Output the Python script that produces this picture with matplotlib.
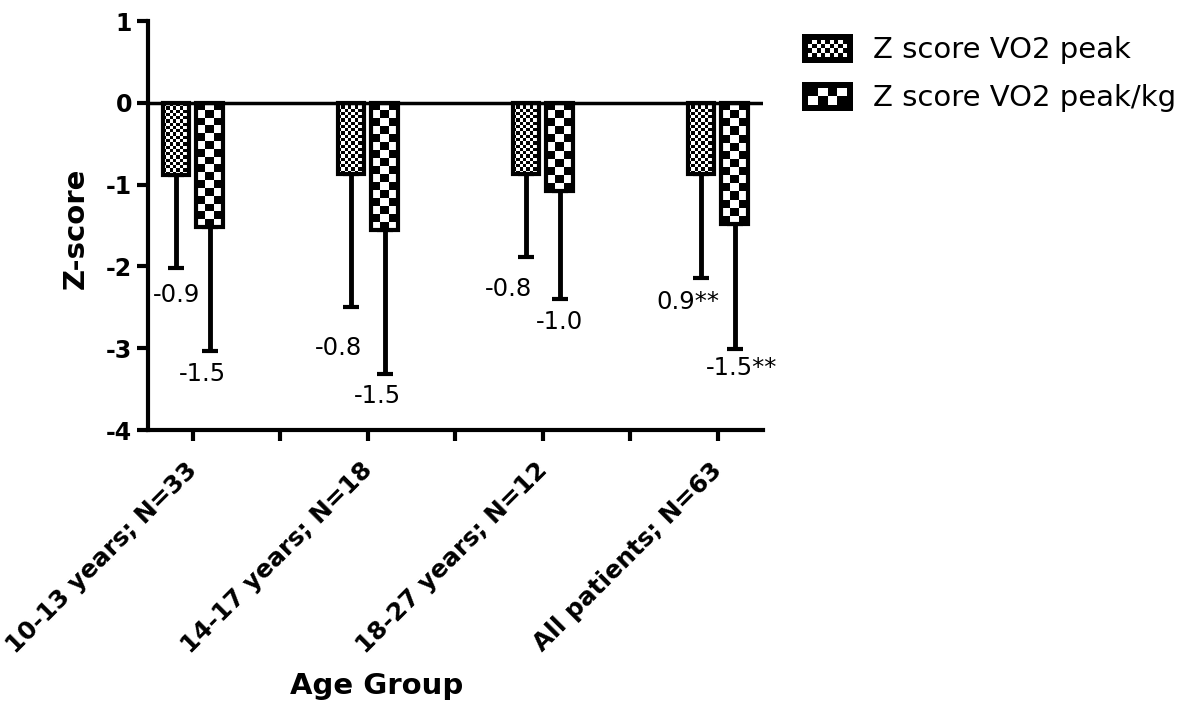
import numpy as np
import matplotlib
matplotlib.use("Agg")
import matplotlib.pyplot as plt
from matplotlib.patches import Rectangle
from matplotlib.legend_handler import HandlerBase
from matplotlib.transforms import ScaledTranslation

plt.rcParams['font.family'] = ['DejaVu Sans']

# data
groups = ["10-13 years; N=33", "14-17 years; N=18", "18-27 years; N=12", "All patients; N=63"]
series_names = ["Z score VO2 peak", "Z score VO2 peak/kg"]
vo2_mean = [-0.88, -0.87, -0.87, -0.87]
vo2_sd = [1.14, 1.63, 1.02, 1.27]
vo2kg_mean = [-1.52, -1.56, -1.08, -1.48]
vo2kg_sd = [1.51, 1.75, 1.32, 1.53]
vo2_labels = ["-0.9", "-0.8", "-0.8", "0.9**"]
vo2kg_labels = ["-1.5", "-1.5", "-1.0", "-1.5**"]
y_ticks = [1, 0, -1, -2, -3, -4]

# label nudges in points (dx, dy) relative to the error bar cap
vo2_offsets = [(0, -19.5), (-9, -29.5), (-13, -23), (-9.4, -17.3)]
vo2kg_offsets = [(-5, -16.5), (-5.4, -16), (0, -16.5), (4.7, -13.7)]

width = 0.15
offset = 0.095
cells = [3.3, 8.0]   # checker cell size in pixels for each series


def checker(nrows, ncols):
    r, c = np.indices((nrows, ncols))
    return ((r + c) % 2).astype(float)


class CheckerHandler(HandlerBase):
    def __init__(self, cell):
        super().__init__()
        self.cell = cell

    def legend_artist(self, legend, orig_handle, fontsize, handlebox):
        x0, y0 = -handlebox.xdescent, -handlebox.ydescent
        w, h = handlebox.width, handlebox.height
        tr = handlebox.get_transform()
        handlebox.add_artist(Rectangle((x0, y0), w, h, facecolor='black', lw=0, transform=tr))
        m = 0.2 * h
        iw, ih = w - 2 * m, h - 2 * m
        nc = max(1, int(round(iw / self.cell)))
        nr = max(1, int(round(ih / self.cell)))
        board = checker(nr, nc)
        cw, ch = iw / nc, ih / nr
        for i in range(nr):
            for j in range(nc):
                if board[i, j] == 0:
                    handlebox.add_artist(Rectangle((x0 + m + j * cw, y0 + m + i * ch), cw, ch,
                                                   facecolor='white', lw=0, transform=tr))
        return handlebox


fig = plt.figure(figsize=(12, 7.15), dpi=100)
ax = fig.add_axes([0.1233, 0.3986, 0.5125, 0.5720])

x = np.arange(len(groups))
ax.set_xlim(-0.257, 3.257)
ax.set_ylim(-4, 1)

bars1 = ax.bar(x - offset, vo2_mean, width, facecolor='none', edgecolor='black', lw=3, zorder=3)
bars2 = ax.bar(x + offset, vo2kg_mean, width, facecolor='none', edgecolor='black', lw=3, zorder=3)

ax.errorbar(x - offset, vo2_mean, yerr=[vo2_sd, [0] * 4], fmt='none', ecolor='black',
            elinewidth=3.5, capsize=6, capthick=3, zorder=2)
ax.errorbar(x + offset, vo2kg_mean, yerr=[vo2kg_sd, [0] * 4], fmt='none', ecolor='black',
            elinewidth=3.5, capsize=6, capthick=3, zorder=2)

ax.axhline(0, color='black', lw=2.5, zorder=4)

# checkerboard fill clipped to each bar
fig.canvas.draw()
for bars, cell in zip([bars1, bars2], cells):
    for b in bars:
        ext = b.get_window_extent()
        nr = max(1, int(round(ext.height / cell)))
        nc = max(1, int(round(ext.width / cell)))
        bx, by, bw, bh = b.get_x(), b.get_y(), b.get_width(), b.get_height()
        im = ax.imshow(checker(nr, nc), cmap='gray', vmin=0, vmax=1, interpolation='nearest',
                       extent=(bx, bx + bw, by + bh, by), aspect='auto', zorder=2.5)
        im.set_clip_path(b)

ax.set_xlim(-0.257, 3.257)
ax.set_ylim(-4, 1)

for xi, m, s, lab, off in zip(x - offset, vo2_mean, vo2_sd, vo2_labels, vo2_offsets):
    ax.annotate(lab, (xi, m - s), xytext=off, textcoords='offset points',
                ha='center', va='center', fontsize=17.5)
for xi, m, s, lab, off in zip(x + offset, vo2kg_mean, vo2kg_sd, vo2kg_labels, vo2kg_offsets):
    ax.annotate(lab, (xi, m - s), xytext=off, textcoords='offset points',
                ha='center', va='center', fontsize=17.5)

ax.spines['top'].set_visible(False)
ax.spines['right'].set_visible(False)
ax.spines['left'].set_linewidth(3)
ax.spines['bottom'].set_linewidth(3)

ax.set_yticks(y_ticks)
ax.set_yticklabels([str(t) for t in y_ticks], fontsize=17, fontweight='bold')
ax.set_xticks(np.arange(0, 3.01, 0.5))
ax.set_xticklabels([groups[i // 2] if i % 2 == 0 else "" for i in range(7)],
                   rotation=45, ha='right', va='top', rotation_mode='anchor',
                   fontsize=17.8, fontweight='bold')
ax.tick_params(axis='both', length=8, width=3, direction='out')
ax.tick_params(axis='x', pad=12)
shift = ScaledTranslation(-8 / 100, 0, fig.dpi_scale_trans)
for lab in ax.get_xticklabels():
    lab.set_transform(lab.get_transform() + shift)

ax.set_ylabel("Z-score", fontsize=21, fontweight='bold', va='center')
ax.yaxis.set_label_coords(-0.117, 0.494)
ax.set_xlabel("Age Group", fontsize=21, fontweight='bold', va='top')
ax.xaxis.set_label_coords(0.372, -0.592)

handles = [Rectangle((0, 0), 1, 1), Rectangle((0, 0), 1, 1)]
fig.legend(handles, series_names, loc='upper left', bbox_to_anchor=(802 / 1200, 1 - 34 / 715),
           frameon=False, fontsize=21, handlelength=1.75, handleheight=1.15,
           handletextpad=0.7, labelspacing=0.6, borderpad=0, borderaxespad=0,
           handler_map={handles[0]: CheckerHandler(3.3), handles[1]: CheckerHandler(8.0)})

fig.savefig("out.png", dpi=100)
